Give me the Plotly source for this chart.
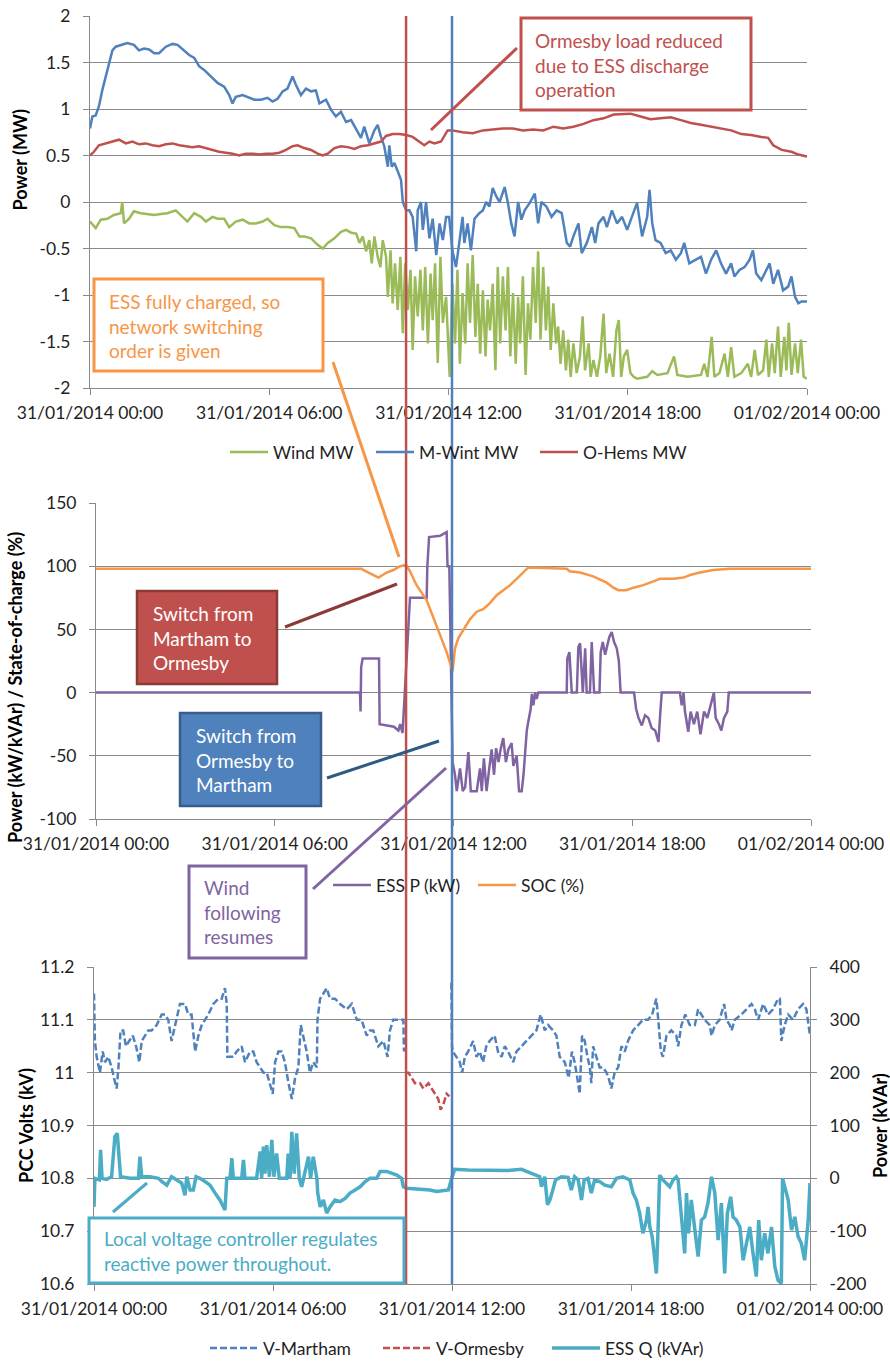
import plotly.graph_objects as go

# ------------------------------------------------------------------ data
X_TICKVALS = [0, 6, 12, 18, 24]
X_TICKTEXT = ["31/01/2014 00:00", "31/01/2014 06:00", "31/01/2014 12:00",
              "31/01/2014 18:00", "01/02/2014 00:00"]

P1_TICKVALS = [-2, -1.5, -1, -0.5, 0, 0.5, 1, 1.5, 2]
P1_TICKTEXT = ["-2", "-1.5", "-1", "-0.5", "0", "0.5", "1", "1.5", "2"]
P2_TICKVALS = [-100, -50, 0, 50, 100, 150]
P2_TICKTEXT = ["-100", "-50", "0", "50", "100", "150"]
P3_TICKVALS = [10.6, 10.7, 10.8, 10.9, 11.0, 11.1, 11.2]
P3_TICKTEXT = ["10.6", "10.7", "10.8", "10.9", "11", "11.1", "11.2"]
P3R_TICKVALS = [-200, -100, 0, 100, 200, 300, 400]
P3R_TICKTEXT = ["-200", "-100", "0", "100", "200", "300", "400"]

# switching events (hours after 31/01/2014 00:00)
SWITCH_HOURS = [10.46, 12.0]

# --- panel 1 : Wind MW
WIND_T = [0, 0.19, 0.36, 0.58, 0.80, 1.03, 1.08, 1.14, 1.31, 1.47, 1.70, 1.92, 2.15, 2.37,
          2.59, 2.87, 3.04, 3.26, 3.49, 3.71, 3.88, 4.10, 4.27, 4.49, 4.66, 4.88, 5.11, 5.33,
          5.55, 5.78, 5.94, 6.17, 6.39, 6.61, 6.84, 7.01, 7.17, 7.40, 7.62, 7.79, 7.96, 8.18,
          8.40, 8.57, 8.74, 8.91, 9.02, 9.13, 9.24, 9.35, 9.43, 9.52, 9.63, 9.72, 9.80, 9.91,
          9.97, 10.06, 10.13, 10.21, 10.30, 10.39, 10.47, 10.55, 10.64, 10.73, 10.80, 10.88,
          10.97, 11.06, 11.14, 11.22, 11.31, 11.40, 11.47, 11.55, 11.64, 11.73, 11.81, 11.92,
          12.04, 12.13, 12.22, 12.30, 12.38, 12.47, 12.56, 12.64, 12.72, 12.81, 12.90, 12.98,
          13.06, 13.15, 13.24, 13.31, 13.39, 13.48, 13.57, 13.65, 13.73, 13.82, 13.91, 13.99,
          14.07, 14.16, 14.25, 14.33, 14.40, 14.49, 14.58, 14.66, 14.74, 14.83, 14.92, 15.00,
          15.08, 15.17, 15.26, 15.34, 15.42, 15.51, 15.60, 15.67, 15.75, 15.84, 15.93, 16.01,
          16.09, 16.18, 16.29, 16.40, 16.49, 16.57, 16.69, 16.76, 16.85, 16.97, 17.08, 17.19,
          17.28, 17.39, 17.51, 17.62, 17.70, 17.78, 17.87, 17.98, 18.09, 18.20, 18.31, 18.65,
          18.82, 18.99, 19.33, 19.55, 19.66, 20.00, 20.45, 20.56, 20.67, 20.81, 20.90, 21.07,
          21.24, 21.35, 21.46, 21.57, 21.80, 22.02, 22.13, 22.25, 22.36, 22.53, 22.64, 22.72,
          22.83, 22.92, 23.03, 23.12, 23.24, 23.31, 23.39, 23.48, 23.60, 23.69, 23.80, 23.89,
          24.0]
WIND_MW = [-0.21, -0.28, -0.19, -0.18, -0.14, -0.12, 0.00, -0.23, -0.18, -0.10, -0.12, -0.13,
           -0.14, -0.13, -0.12, -0.09, -0.14, -0.21, -0.12, -0.16, -0.21, -0.16, -0.18, -0.18,
           -0.27, -0.21, -0.19, -0.23, -0.23, -0.21, -0.18, -0.25, -0.27, -0.27, -0.28, -0.37,
           -0.37, -0.39, -0.46, -0.50, -0.44, -0.39, -0.32, -0.30, -0.33, -0.34, -0.44, -0.37,
           -0.53, -0.41, -0.66, -0.37, -0.59, -0.70, -0.41, -0.59, -1.02, -0.52, -1.09, -0.66,
           -1.16, -0.59, -1.41, -0.66, -1.16, -0.73, -1.59, -0.80, -1.23, -0.73, -1.38, -0.70,
           -1.52, -0.77, -1.27, -0.66, -1.73, -0.59, -1.30, -1.02,
           -1.88, -0.88, -1.52, -0.73, -1.74, -0.98, -1.52, -0.66, -1.30, -0.57, -1.45, -0.88,
           -1.63, -0.95, -1.66, -1.05, -1.38, -0.88, -1.81, -0.70, -1.52, -0.80, -1.38, -0.70,
           -1.66, -0.98, -1.74, -1.02, -1.52, -0.80, -1.86, -1.09, -1.48, -0.70, -1.30, -0.53,
           -1.48, -0.70, -1.38, -0.91, -1.59, -1.09, -1.52, -1.34, -1.74, -1.38, -1.81, -1.48,
           -1.88, -1.52, -1.84, -1.66, -1.23, -1.81, -1.52, -1.88, -1.70, -1.88, -1.66, -1.20,
           -1.84, -1.63, -1.88, -1.38, -1.27, -1.88, -1.66, -1.59, -1.84, -1.88, -1.90, -1.88,
           -1.82, -1.86, -1.84, -1.66, -1.86, -1.88, -1.86, -1.74, -1.88, -1.45, -1.88, -1.84,
           -1.63, -1.88, -1.56, -1.88, -1.84, -1.74, -1.88, -1.59, -1.86, -1.81, -1.48, -1.88,
           -1.52, -1.84, -1.34, -1.88, -1.45, -1.81, -1.30, -1.86, -1.52, -1.84, -1.48, -1.88,
           -1.90]

# --- panel 1 : M-Wint MW
MWINT_T = [0, 0.08, 0.19, 0.30, 0.41, 0.53, 0.64, 0.75, 0.86, 1.03, 1.25, 1.47, 1.64, 1.81,
           1.98, 2.15, 2.31, 2.54, 2.76, 2.93, 3.15, 3.32, 3.49, 3.65, 3.82, 4.04, 4.27, 4.49,
           4.66, 4.77, 4.88, 5.11, 5.27, 5.50, 5.72, 5.94, 6.11, 6.28, 6.45, 6.61, 6.78, 6.89,
           7.06, 7.23, 7.40, 7.56, 7.68, 7.90, 8.07, 8.23, 8.40, 8.57, 8.74, 8.91, 9.07, 9.18,
           9.35, 9.52, 9.63, 9.74, 9.85, 9.97, 10.02, 10.10, 10.19, 10.30, 10.41, 10.47, 10.58,
           10.69, 10.80, 10.92, 10.97, 11.08, 11.14, 11.25, 11.36, 11.47, 11.59, 11.70, 11.81,
           11.92, 12.02, 12.13, 12.25, 12.36, 12.47, 12.53, 12.64, 12.75, 12.87, 13.03, 13.15,
           13.26, 13.37, 13.48, 13.60, 13.71, 13.88, 13.99, 14.10, 14.21, 14.33, 14.44, 14.55,
           14.72, 14.89, 15.00, 15.11, 15.28, 15.45, 15.62, 15.79, 15.96, 16.07, 16.18, 16.35,
           16.46, 16.63, 16.80, 16.91, 17.02, 17.19, 17.30, 17.47, 17.64, 17.81, 17.98, 18.15,
           18.31, 18.48, 18.65, 18.73, 18.82, 18.93, 19.10, 19.27, 19.44, 19.61, 19.78, 19.89,
           20.06, 20.28, 20.45, 20.62, 20.79, 20.96, 21.12, 21.29, 21.46, 21.57, 21.74, 21.91,
           22.08, 22.19, 22.30, 22.47, 22.64, 22.75, 22.87, 23.03, 23.20, 23.37, 23.48, 23.60,
           23.71, 23.82, 24.0]
MWINT_MW = [0.79, 0.92, 0.93, 1.03, 1.20, 1.35, 1.46, 1.63, 1.67, 1.69, 1.71, 1.69, 1.63, 1.65,
            1.64, 1.60, 1.60, 1.67, 1.70, 1.69, 1.63, 1.58, 1.55, 1.46, 1.42, 1.35, 1.28, 1.24,
            1.15, 1.06, 1.13, 1.15, 1.13, 1.10, 1.10, 1.12, 1.08, 1.11, 1.19, 1.22, 1.35, 1.26,
            1.15, 1.22, 1.19, 1.20, 1.06, 1.10, 0.99, 0.92, 0.97, 0.86, 0.88, 0.79, 0.69, 0.81,
            0.63, 0.77, 0.83, 0.70, 0.60, 0.38, 0.61, 0.38, 0.42, 0.33, 0.24, 0.00, -0.09,
            -0.09, -0.16, -0.53, -0.09, 0.00, -0.30, 0.00, -0.39, -0.18, -0.57, -0.23, -0.41,
            -0.16, -0.16, -0.52, -0.70, -0.44, -0.16, -0.44, -0.23, -0.52, -0.18, -0.12, -0.09,
            0.00, -0.05, 0.15, 0.06, 0.00, 0.16, -0.01, -0.23, -0.37, 0.00, -0.19, -0.09,
            -0.01, 0.09, -0.23, 0.00, -0.05, -0.16, -0.09, -0.12, -0.44, -0.48, -0.37, -0.23,
            -0.55, -0.44, -0.27, -0.44, -0.23, -0.16, -0.27, -0.09, -0.23, -0.16, -0.30, -0.16,
            -0.01, -0.37, -0.16, 0.13, -0.23, -0.41, -0.44, -0.55, -0.52, -0.62, -0.55, -0.44,
            -0.66, -0.62, -0.59, -0.77, -0.62, -0.52, -0.66, -0.77, -0.66, -0.80, -0.73, -0.70,
            -0.62, -0.52, -0.77, -0.84, -0.73, -0.66, -0.88, -0.73, -0.95, -0.91, -0.80, -1.02,
            -1.09, -1.07, -1.07]

# --- panel 1 : O-Hems MW
OHEMS_T = [0, 0.13, 0.30, 0.53, 0.75, 0.97, 1.20, 1.42, 1.64, 1.87, 2.09, 2.31, 2.54, 2.76,
           2.99, 3.21, 3.43, 3.65, 3.88, 4.10, 4.32, 4.55, 4.77, 4.99, 5.22, 5.44, 5.66, 5.89,
           6.11, 6.34, 6.56, 6.78, 6.95, 7.17, 7.40, 7.62, 7.79, 7.96, 8.18, 8.40, 8.63, 8.85,
           9.07, 9.30, 9.52, 9.74, 9.91, 10.13, 10.36, 10.58, 10.80, 11.03, 11.19, 11.36, 11.53,
           11.75, 11.97, 12.13, 12.47, 12.81, 13.15, 13.48, 13.82, 14.16, 14.49, 14.83, 15.17,
           15.51, 15.84, 16.18, 16.52, 16.85, 17.19, 17.53, 17.87, 18.09, 18.43, 18.76, 19.10,
           19.44, 19.78, 20.11, 20.45, 20.79, 21.12, 21.46, 21.80, 22.13, 22.47, 22.70, 22.87,
           23.15, 23.48, 23.71, 24.0]
OHEMS_MW = [0.50, 0.54, 0.61, 0.63, 0.65, 0.67, 0.63, 0.65, 0.62, 0.63, 0.61, 0.60, 0.62, 0.63,
            0.61, 0.60, 0.59, 0.60, 0.58, 0.56, 0.54, 0.53, 0.52, 0.50, 0.52, 0.52, 0.51, 0.52,
            0.52, 0.53, 0.56, 0.60, 0.61, 0.58, 0.56, 0.52, 0.50, 0.52, 0.58, 0.60, 0.59, 0.57,
            0.60, 0.61, 0.63, 0.65, 0.71, 0.73, 0.73, 0.72, 0.70, 0.65, 0.61, 0.65, 0.63,
            0.65, 0.77, 0.77, 0.75, 0.74, 0.77, 0.78, 0.79, 0.79, 0.77, 0.78, 0.77,
            0.81, 0.79, 0.81, 0.84, 0.88, 0.90, 0.94, 0.95, 0.95, 0.92, 0.89, 0.90,
            0.91, 0.88, 0.85, 0.83, 0.81, 0.79, 0.77, 0.73, 0.72, 0.70, 0.69, 0.61,
            0.56, 0.54, 0.51, 0.49]

# --- panel 2 : ESS P (kW)
ESSP_T = [0, 8.86, 8.88, 8.90, 8.95, 9.50, 9.52, 9.80, 10.00, 10.15, 10.21, 10.29, 10.32,
          10.36, 10.42, 10.47, 10.54, 11.10, 11.12, 11.18, 11.55, 11.77, 11.80, 11.86, 11.97,
          12.05, 12.11, 12.22, 12.31, 12.39, 12.50, 12.58, 12.67, 12.78, 12.89, 12.95, 13.02,
          13.11, 13.20, 13.28, 13.36, 13.43, 13.51, 13.58, 13.67, 13.76, 13.84, 13.95, 14.01,
          14.12, 14.20, 14.29, 14.35, 14.40, 14.46, 14.51, 14.59, 14.63, 14.68, 14.74, 14.79,
          14.85, 15.80, 15.82, 15.89, 15.97, 16.14, 16.19, 16.25, 16.34, 16.42, 16.47, 16.58,
          16.64, 16.72, 16.90, 16.94, 17.01, 17.09, 17.14, 17.23, 17.31, 17.39, 17.48, 17.55,
          17.61, 18.06, 18.13, 18.21, 18.32, 18.43, 18.54, 18.65, 18.77, 18.88, 18.93, 18.99,
          19.60, 19.66, 19.72, 19.77, 19.88, 19.96, 20.07, 20.18, 20.29, 20.41, 20.52, 20.63,
          20.74, 20.80, 20.91, 20.99, 21.08, 21.19, 21.24, 24.0]
ESSP_KW = [0, 0, -15, 20, 27, 27, -25, -26, -27, -30, -25, -32, -20,
           0, 30, 49, 75, 75, 99, 123, 124, 127, 100, 100, -55,
           -65, -78, -60, -78, -75, -47, -78, -78, -78, -60, -78, -52,
           -78, -60, -45, -65, -44, -55, -45, -36, -55, -45, -40, -58,
           -50, -78, -78, -65, -45, -30, -23, -13, -1, -10, 0, -5,
           0, 0, 27, 32, 0, 0, 36, 39, 0, 35, 0, 0,
           40, 0, 0, 32, 40, 30, 35, 44, 48, 40, 35, 25,
           0, 0, -13, -20, -26, -18, -20, -28, -30, -39, -20, 0,
           0, -10, 0, -15, -31, -15, -25, -15, -33, -15, -20, -10,
           0, -20, -25, -30, -20, -15, 0, 0]

# --- panel 2 : SOC (%)
SOC_T = [0, 8.92, 8.97, 9.20, 9.48, 9.76, 9.98, 10.21, 10.41, 10.54, 10.76, 11.10, 11.32,
         11.55, 11.77, 11.97, 12.05, 12.16, 12.33, 12.55, 12.78, 13.00, 13.23, 13.45, 13.67,
         13.90, 14.12, 14.35, 14.51, 15.80, 15.90, 16.25, 16.69, 17.14, 17.37, 17.53, 17.80,
         18.04, 18.37, 18.71, 18.93, 19.38, 19.72, 19.94, 20.27, 20.72, 21.28, 24.0]
SOC_PCT = [98, 98, 97, 94, 91, 95, 97, 100, 101, 96, 85, 73, 60,
           45, 32, 17, 35, 43, 50, 58, 64, 66, 71, 77, 81,
           85, 90, 95, 99, 98, 96, 95, 92, 87, 83, 81, 81,
           83, 85, 88, 90, 90, 91, 93, 95, 97, 98, 98]

# --- panel 3 : V-Martham (kV)  (None = not connected to Martham)
VM_T = [0.00, 0.03, 0.09, 0.20, 0.29, 0.37, 0.48, 0.59, 0.67, 0.76, 0.82, 0.89, 0.98, 1.07,
        1.18, 1.30, 1.41, 1.52, 1.60, 1.71, 1.82, 1.93, 2.10, 2.27, 2.38, 2.49, 2.60, 2.72,
        2.88, 3.05, 3.16, 3.27, 3.39, 3.50, 3.61, 3.72, 3.83, 4.00, 4.17, 4.28, 4.39, 4.45,
        4.47, 4.56, 4.67, 4.78, 4.95, 5.06, 5.23, 5.34, 5.45, 5.57, 5.68, 5.79, 5.90, 5.99,
        6.07, 6.18, 6.29, 6.40, 6.52, 6.63, 6.74, 6.85, 6.93, 7.02, 7.13, 7.24, 7.35, 7.47,
        7.49, 7.58, 7.69, 7.80, 7.91, 8.08, 8.25, 8.47, 8.64, 8.81, 8.97, 9.14, 9.25, 9.36,
        9.53, 9.70, 9.84, 9.92, 10.03, 10.15, 10.26, 10.37, 10.39, 11.5,
        11.98, 12.00, 12.03, 12.15, 12.26, 12.34, 12.43, 12.54, 12.71, 12.82, 12.93, 13.04,
        13.15, 13.26, 13.43, 13.54, 13.66, 13.77, 13.88, 14.05, 14.16, 14.33, 14.49, 14.66,
        14.83, 14.97, 15.11, 15.22, 15.39, 15.50, 15.61, 15.78, 15.91, 16.02, 16.11, 16.20,
        16.28, 16.36, 16.45, 16.54, 16.62, 16.67, 16.73, 16.84, 16.95, 17.06, 17.18, 17.25,
        17.34, 17.45, 17.57, 17.68, 17.79, 17.90, 18.07, 18.24, 18.40, 18.57, 18.71, 18.80,
        18.85, 18.93, 19.00, 19.07, 19.19, 19.35, 19.52, 19.58, 19.69, 19.82, 19.97, 20.14,
        20.25, 20.36, 20.47, 20.64, 20.70, 20.81, 20.97, 21.12, 21.20, 21.31, 21.37, 21.48,
        21.70, 21.87, 22.04, 22.15, 22.26, 22.43, 22.59, 22.76, 22.93, 22.99, 23.04, 23.15,
        23.27, 23.43, 23.60, 23.77, 23.88, 24.0]
VM_KV = [11.15, 11.06, 11.03, 11.00, 11.04, 11.02, 11.03, 11.01, 10.99, 10.97, 11.01, 11.08,
         11.08, 11.05, 11.06, 11.07, 11.05, 11.02, 11.06, 11.07, 11.08, 11.08, 11.09, 11.11,
         11.11, 11.10, 11.06, 11.09, 11.13, 11.13, 11.11, 11.11, 11.04, 11.07, 11.09, 11.10,
         11.11, 11.13, 11.14, 11.14, 11.16, 11.13, 11.03, 11.03, 11.03, 11.04, 11.05, 11.02,
         11.04, 11.04, 11.02, 11.01, 11.00, 11.00, 10.98, 10.96, 11.02, 11.04, 11.04, 11.02,
         10.98, 10.95, 10.99, 11.01, 11.09, 11.07, 11.04, 11.00, 11.02, 11.01, 11.10, 11.14,
         11.15, 11.16, 11.14, 11.14, 11.13, 11.12, 11.13, 11.10, 11.10, 11.07, 11.08, 11.08,
         11.05, 11.06, 11.03, 11.08, 11.10, 11.10, 11.10, 11.10, 11.04, None,
         11.17, 11.05, 11.04, 11.03, 11.02, 11.00, 11.03, 11.04, 11.06, 11.03, 11.04, 11.02,
         11.05, 11.06, 11.07, 11.04, 11.03, 11.05, 11.04, 11.02, 11.04, 11.05, 11.06, 11.07,
         11.08, 11.11, 11.08, 11.09, 11.08, 11.07, 11.03, 11.02, 10.99, 11.04, 11.02, 10.99,
         10.96, 11.07, 11.06, 11.03, 11.01, 10.98, 11.05, 11.03, 11.01, 11.01, 11.00, 10.99,
         10.97, 11.00, 11.01, 11.05, 11.04, 11.06, 11.08, 11.09, 11.10, 11.10, 11.11, 11.13,
         11.14, 11.09, 11.04, 11.03, 11.07, 11.08, 11.07, 11.05, 11.09, 11.11, 11.09, 11.09,
         11.12, 11.11, 11.10, 11.09, 11.07, 11.09, 11.10, 11.13, 11.10, 11.09, 11.08, 11.10,
         11.11, 11.12, 11.13, 11.12, 11.10, 11.13, 11.11, 11.12, 11.14, 11.14, 11.06, 11.09,
         11.11, 11.10, 11.12, 11.13, 11.12, 11.07]

# --- panel 3 : V-Ormesby (kV)
VO_T = [10.43, 10.54, 10.65, 10.76, 10.93, 11.04, 11.21, 11.32, 11.43, 11.54, 11.62, 11.71,
        11.82, 11.91]
VO_KV = [11.00, 11.00, 10.99, 10.98, 10.98, 10.97, 10.98, 10.97, 10.96, 10.95, 10.93, 10.94,
         10.96, 10.955]

# --- panel 3 : ESS Q (kVAr)
ESSQ_T = [0.00, 0.03, 0.18, 0.22, 0.27, 0.42, 0.59, 0.65, 0.70, 0.78, 0.85, 0.89, 1.21, 1.49,
          1.54, 1.60, 1.88, 2.16, 2.27, 2.44, 2.60, 2.77, 2.94, 3.05, 3.11, 3.22, 3.33, 3.42,
          3.55, 3.72, 3.89, 4.06, 4.22, 4.39, 4.45, 4.56, 4.62, 4.67, 4.95, 5.01, 5.06, 5.45,
          5.57, 5.62, 5.68, 5.73, 5.79, 5.88, 5.96, 6.03, 6.12, 6.21, 6.46, 6.51, 6.57, 6.63,
          6.71, 6.79, 6.88, 6.96, 7.02, 7.19, 7.26, 7.35, 7.47, 7.50, 7.58, 7.69, 7.80, 7.91,
          8.08, 8.25, 8.42, 8.58, 8.75, 8.92, 9.09, 9.25, 9.48, 9.59, 9.81, 10.04, 10.15, 10.31,
          10.37, 10.48, 10.82, 11.04, 11.26, 11.48, 11.71, 11.88, 11.99,
          12.09, 12.54, 13.21, 13.88, 14.33, 14.66, 14.94, 15.00, 15.11, 15.20, 15.28, 15.35,
          15.47, 15.67, 15.89, 16.00, 16.11, 16.23, 16.34, 16.43, 16.56, 16.67, 16.78, 16.95,
          17.12, 17.34, 17.51, 17.73, 17.96, 18.07, 18.18, 18.29, 18.40, 18.52, 18.57, 18.63,
          18.71, 18.80, 18.85, 18.91, 18.96, 19.07, 19.19, 19.30, 19.41, 19.52, 19.58, 19.69,
          19.80, 19.86, 19.93, 20.02, 20.14, 20.25, 20.36, 20.47, 20.58, 20.70, 20.81, 20.92,
          21.03, 21.14, 21.23, 21.34, 21.42, 21.53, 21.65, 21.76, 21.87, 21.98, 22.09, 22.20,
          22.28, 22.37, 22.48, 22.59, 22.71, 22.82, 22.93, 23.04, 23.08, 23.15, 23.27, 23.38,
          23.49, 23.60, 23.71, 23.82, 23.94, 24.0]
ESSQ_KVAR = [-54, 0, -3, 54, 0, -2, 3, 38, 79, 85, 35, 3, 0, 0,
             41, 3, 3, 0, -6, -13, 3, -3, -9, -32, 3, -22, -22, 3,
             0, -6, -13, -28, -41, -60, 0, 0, 38, 0, 0, 35, 0, 0,
             51, 0, 60, 9, 63, 3, 73, 3, 47, 0, 0, 47, 0, 88,
             9, 85, 0, -16, 0, 41, 0, 41, 0, -28, -54, -41, -66, -54,
             -41, -44, -38, -28, -22, -16, -6, 0, 0, 13, 13, 9, 6, 0,
             -16, -19, -21, -22, -22, -25, -23, -22, 0,
             17, 16, 15, 15, 17, 9, 3, -16, 3, -50, -41, -28,
             -3, 3, 2, -22, 3, -3, -41, -3, 0, -28, -3, -6,
             -13, -16, 0, 3, -3, -28, -41, -66, -104, -79, -54, -92,
             -110, -155, -180, -92, 6, -3, -9, -16, -3, 3, -3, -66,
             -142, -28, -104, -41, -92, -148, -79, -73, -47, 3, -28, -117,
             -47, -180, -66, -35, -73, -79, -92, -155, -123, -92, -142, -186,
             -79, -155, -104, -142, -92, -167, -193, -199, 0, -16, -41, -98,
             -73, -110, -123, -155, -79, -9]

# ------------------------------------------------------------------ style
W, H = 890, 1361
FONT = "Lato, 'Open Sans', sans-serif"
TXT = "#1f1f1f"
GRID = "#8a8a8a"
GREEN, BLUE, RED = "#9bbb59", "#4f81bd", "#c0504d"
PURPLE, ORANGE, AQUA = "#8064a2", "#f79646", "#4bacc6"


def px(x):
    return x / W


def py(y):
    return 1 - y / H


fig = go.Figure()


def add(x, y, name, color, xa, ya, leg, lw, width=2.5, dash=None):
    fig.add_trace(go.Scatter(x=x, y=y, name=name, mode="lines", connectgaps=False,
                             line=dict(color=color, width=width, dash=dash),
                             xaxis=xa, yaxis=ya, legend=leg, legendwidth=lw))


# panel 1
add(WIND_T, WIND_MW, "Wind MW", GREEN, "x", "y", "legend", 93)
add(MWINT_T, MWINT_MW, "M-Wint MW", BLUE, "x", "y", "legend", 111)
add(OHEMS_T, OHEMS_MW, "O-Hems MW", RED, "x", "y", "legend", 105)
# panel 2
add(ESSP_T, ESSP_KW, "ESS P (kW)", PURPLE, "x2", "y2", "legend2", 92)
add(SOC_T, SOC_PCT, "SOC (%)", ORANGE, "x2", "y2", "legend2", 70)
# panel 3
add(VM_T, VM_KV, "V-Martham", BLUE, "x3", "y3", "legend3", 110, dash="7px,3px")
add(VO_T, VO_KV, "V-Ormesby", RED, "x3", "y3", "legend3", 106, dash="7px,3px")
add(ESSQ_T, ESSQ_KVAR, "ESS Q (kVAr)", AQUA, "x3", "y4", "legend3", 100, width=3.5)

tickfont = dict(family=FONT, size=17.5, color=TXT)


def xaxis(domain, anchor):
    return dict(domain=domain, anchor=anchor, range=[0, 24], tickvals=X_TICKVALS,
                ticktext=X_TICKTEXT, showline=True, linecolor=GRID, linewidth=1,
                ticks="outside", ticklen=6, tickcolor=GRID, showgrid=False,
                zeroline=False, tickfont=tickfont, ticklabelstandoff=3, fixedrange=True,
                automargin=False)


def yaxis(domain, anchor, rng, tv, tt, side="left", grid=True):
    return dict(domain=domain, anchor=anchor, range=rng, tickvals=tv, ticktext=tt,
                showline=True, linecolor=GRID, linewidth=1, ticks="outside", ticklen=6,
                tickcolor=GRID, showgrid=grid, gridcolor=GRID, gridwidth=1, zeroline=False,
                tickfont=tickfont, side=side, ticklabelstandoff=9, fixedrange=True,
                automargin=False)


legfont = dict(family=FONT, size=17.5, color=TXT)


def legend(x, y, iw):
    return dict(x=px(x), y=py(y), xanchor="left", yanchor="middle", orientation="h",
                font=legfont, bgcolor="rgba(0,0,0,0)", entrywidthmode="pixels",
                itemwidth=iw, borderwidth=0)


fig.update_layout(
    template="none",
    width=W, height=H, autosize=False,
    margin=dict(l=0, r=0, t=0, b=0, pad=0, autoexpand=False),
    paper_bgcolor="white", plot_bgcolor="white",
    font=dict(family=FONT, color=TXT),
    xaxis=xaxis([px(90), px(807)], "y"),
    yaxis=yaxis([py(388), py(16)], "x", [-2, 2], P1_TICKVALS, P1_TICKTEXT),
    xaxis2=xaxis([px(96), px(811)], "y2"),
    yaxis2=yaxis([py(819), py(503)], "x2", [-100, 150], P2_TICKVALS, P2_TICKTEXT),
    xaxis3=xaxis([px(94), px(810)], "y3"),
    yaxis3=yaxis([py(1284), py(967)], "x3", [10.6, 11.2], P3_TICKVALS, P3_TICKTEXT),
    yaxis4=dict(yaxis([py(1284), py(967)], "x3", [-200, 400], P3R_TICKVALS, P3R_TICKTEXT,
                      side="right", grid=False), overlaying="y3"),
    legend=legend(225, 452, 38),
    legend2=legend(328, 885, 38),
    legend3=legend(205, 1348, 48),
    showlegend=True,
)

shapes = []
# switching event lines across all three panels
for h, c in zip(SWITCH_HOURS, [RED, BLUE]):
    shapes.append(dict(type="line", xref="x3", yref="paper", x0=h, x1=h,
                       y0=py(1284), y1=py(16), line=dict(color=c, width=2.5), layer="above"))


def seg(x0, y0, x1, y1, color):
    shapes.append(dict(type="line", xref="paper", yref="paper", x0=px(x0), y0=py(y0),
                       x1=px(x1), y1=py(y1), line=dict(color=color, width=3), layer="above"))


def box(x0, y0, x1, y1, line, fill, lw=3):
    shapes.append(dict(type="rect", xref="paper", yref="paper", x0=px(x0), y0=py(y0),
                       x1=px(x1), y1=py(y1), line=dict(color=line, width=lw),
                       fillcolor=fill, layer="above"))


# leader lines
seg(431, 130, 517, 48, RED)
seg(333, 362, 399, 557, ORANGE)
seg(285, 627, 397, 584, "#8c3a38")
seg(327, 778, 439, 741, "#2f5a83")
seg(313, 889, 446, 768, PURPLE)
seg(113, 1212, 147, 1183, AQUA)

# text boxes
box(521, 18, 751, 110, RED, "white")
box(94, 279, 323, 371, ORANGE, "white")
box(137, 591, 277, 684, "#8c3a38", RED, 2.5)
box(180, 713, 321, 806, "#385d8a", BLUE, 2.5)
box(189, 866, 306, 958, PURPLE, "white")
box(89, 1218, 404, 1283, AQUA, "white")

fig.update_layout(shapes=shapes)

ann = []


def label(x, y, text, color):
    ann.append(dict(xref="paper", yref="paper", x=px(x), y=py(y), xanchor="left",
                    yanchor="middle", align="left", showarrow=False, text=text,
                    font=dict(family=FONT, size=19, color=color)))


label(533, 65, "Ormesby load reduced<br>due to ESS discharge<br>operation", RED)
label(107, 326, "ESS fully charged, so<br>network switching<br>order is given", ORANGE)
label(151, 638, "Switch from<br>Martham to<br>Ormesby", "white")
label(194, 760, "Switch from<br>Ormesby to<br>Martham", "white")
label(202, 912, "Wind<br>following<br>resumes", PURPLE)
label(102, 1251, "Local voltage controller regulates<br>reactive power throughout.", AQUA)


def ytitle(x, y, text):
    ann.append(dict(xref="paper", yref="paper", x=px(x), y=py(y), xanchor="center",
                    yanchor="middle", showarrow=False, text="<b>" + text + "</b>",
                    textangle=-90, font=dict(family=FONT, size=18, color="black")))


ytitle(19.5, 160, "Power (MW)")
ytitle(15, 688, "Power (kW/kVAr) / State-of-charge (%)")
ytitle(26, 1126, "PCC Volts (kV)")
ytitle(880, 1126, "Power (kVAr)")

fig.update_layout(annotations=ann)

fig.write_html(
    "out.html",
    config={"displayModeBar": False, "staticPlot": False},
    post_script=("document.documentElement.style.margin='0';"
                 "document.body.style.margin='0';"
                 "document.body.style.padding='0';"
                 "document.documentElement.style.overflow='hidden';"
                 "document.body.style.overflow='hidden';"),
)
